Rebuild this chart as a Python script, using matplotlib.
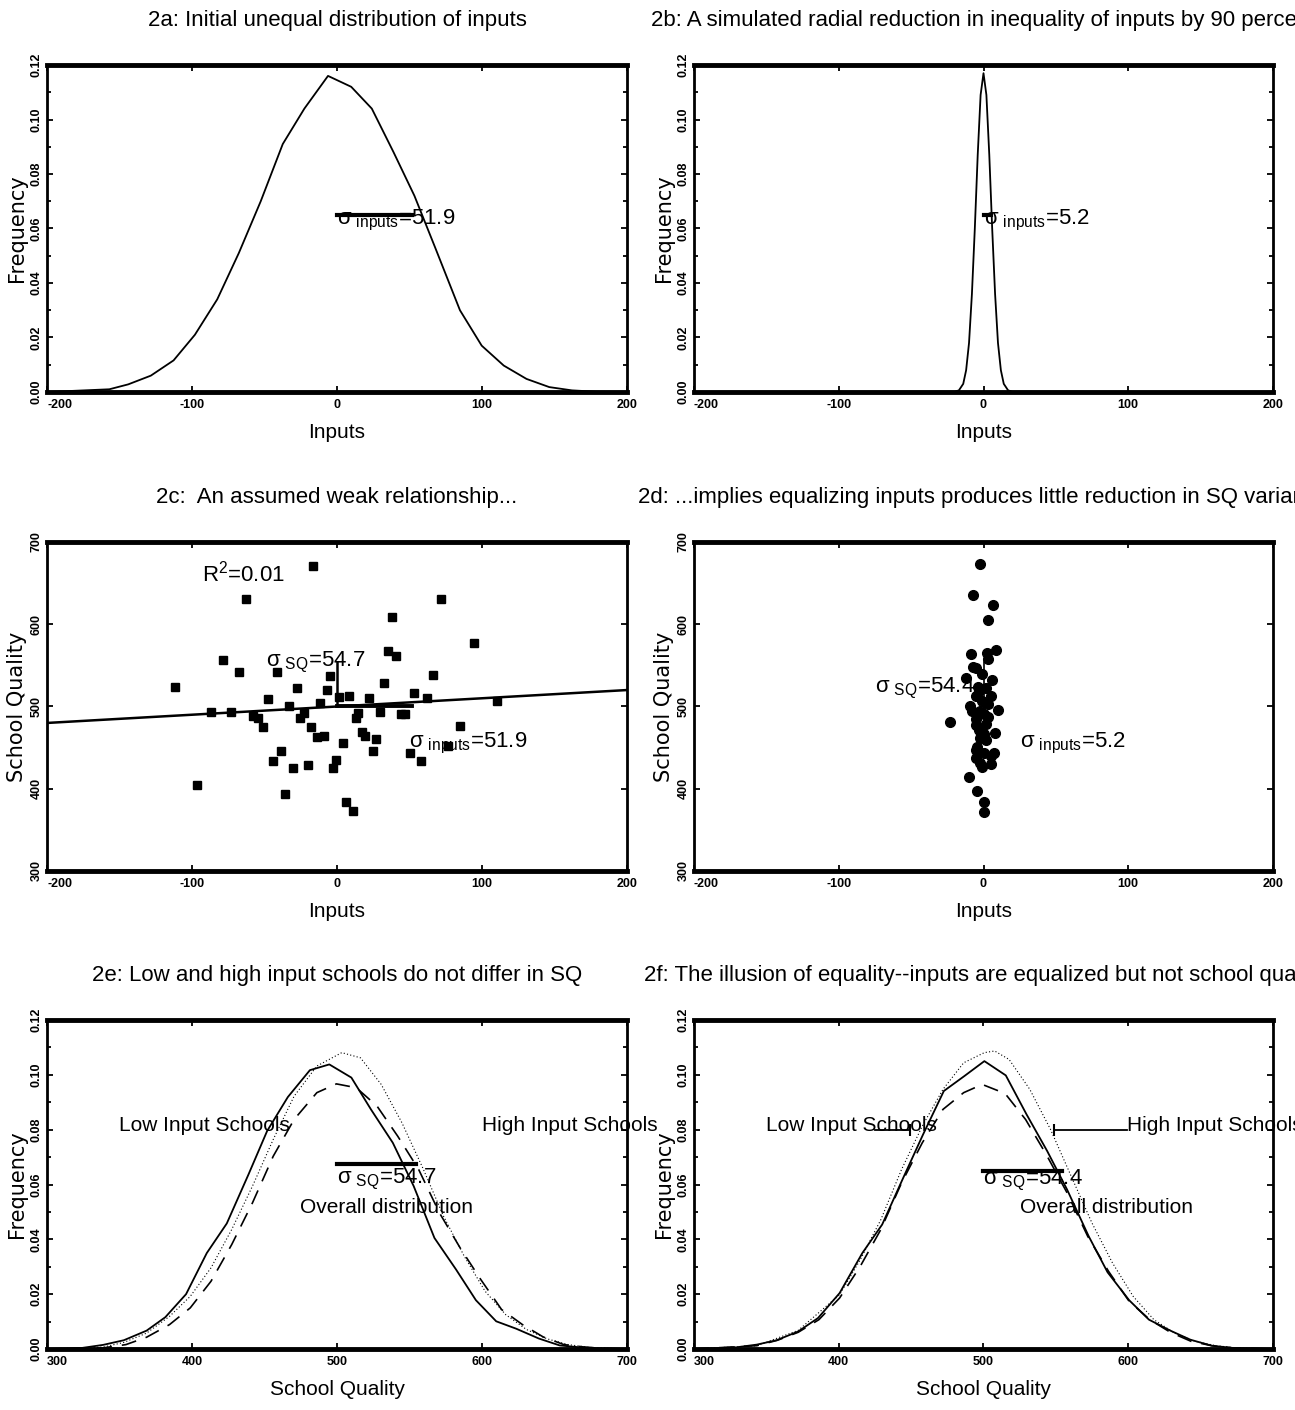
import matplotlib
matplotlib.use('Agg')
import matplotlib.pyplot as plt
from matplotlib.ticker import MultipleLocator, FormatStrFormatter

plt.rcParams['axes.unicode_minus'] = False
plt.rcParams['font.family'] = ['Liberation Sans', 'DejaVu Sans']
NARROW = ['Liberation Sans', 'DejaVu Sans']
WIDE = ['DejaVu Sans']

# 2a: initial distribution of inputs
a_x = [-200, -157, -144, -128.4, -112.7, -98, -82.6, -67.7, -52.6, -37.4, -22.5, -6.2,
       9.8, 24, 39, 53.4, 67.7, 84.8, 99.8, 115, 130.7, 146.4, 162, 179, 200]
a_y = [0.0, 0.001, 0.0028, 0.006, 0.0116, 0.021, 0.034, 0.051, 0.070, 0.091, 0.104, 0.116,
       0.112, 0.104, 0.088, 0.072, 0.053, 0.030, 0.017, 0.0097, 0.0048, 0.0018, 0.0006, 0.0001, 0.0]

# 2b: after 90 percent reduction
b_x = [-200, -20, -17, -14, -12, -10, -8, -6, -4, -2, 0, 2, 4, 6, 8, 10, 12, 14, 17, 20, 200]
b_y = [0.0, 0.0001, 0.0006, 0.003, 0.008, 0.018, 0.036, 0.060, 0.087, 0.109, 0.117,
       0.109, 0.087, 0.060, 0.036, 0.018, 0.008, 0.003, 0.0006, 0.0001, 0.0]

# 2c: scatter, weak relationship
c_x = [-111.8, -16.3, -62.8, 71.7, 37.8, 94.6, 35.3, 40.4, -78.9, -67.4, -41.3, -4.6, 66.2,
       -27.8, 32.4, -6.9, -47.3, -11.5, 1.7, 8.6, 22.4, 53.3, 61.9, 110.4, -33.0, -86.6,
       -72.8, -57.9, -54.5, -25.5, -22.7, 14.6, 13.2, 29.5, 43.9, 46.7, -51.3, -17.8, -13.5,
       -9.2, 17.2, 19.5, 26.9, 84.5, 4.0, -38.4, 24.7, 50.2, 57.6, -44.4, -0.6, -2.6, -30.1,
       -20.1, 76.8, -96.3, -35.8, 6.0, 10.9]
c_y = [523.9, 671, 630.4, 630.4, 608.7, 576.6, 567.3, 561.3, 556.5, 542.4, 542.4, 537.2, 538,
       522.3, 528.3, 520.3, 508.6, 504.2, 511.5, 513.1, 509.8, 516.3, 510.2, 506.2, 500.2, 492.9,
       492.9, 488.9, 486.1, 486.1, 492.2, 492.2, 486.1, 492.9, 490.9, 490.9, 474.9, 474.9, 462.8,
       464, 468.8, 463.6, 460.4, 476.1, 455.6, 445.9, 445.9, 443.9, 433.9, 433.9, 434.7, 425.4,
       425.4, 428.6, 451.6, 404.5, 393.7, 384.4, 372.4]
fit_x = [-200, 200]
fit_y = [480, 520]

# 2d: scatter after equalizing inputs
d_x = [-2.3, -7.1, 6.3, 2.9, 8.6, -8.9, 2.6, 2.9, -7.1, -5.1, -1.1, -12.3, 5.7, 2.0, -3.7,
       4.9, -5.1, -0.9, -9.4, 10.0, -8.0, 0.6, 3.4, -5.1, -23.4, -5.1, -2.9, 7.7, 0.6, -2.3,
       2.0, -4.6, 7.1, 0.0, 4.9, -5.1, -2.3, 4.9, -0.9, -10.3, -4.3, 0.0, 0.6, -2.9, 3.4,
       -2.3, 2.0, -0.9, -5.1]
d_y = [673, 635.7, 623.6, 605.5, 568.1, 564.1, 565.3, 557.3, 548, 546.4, 539.2, 535.2, 532.4,
       523.1, 523.9, 512.3, 512.3, 507, 501, 496.2, 495, 491, 486.9, 484.9, 480.9, 478.1, 472,
       468, 466.8, 461.6, 458.8, 450.8, 443.9, 443.5, 439.9, 437.9, 430.7, 429.9, 426.6, 413.8,
       397.3, 384.4, 371.2, 519, 503, 495, 479, 467, 446.7]

# 2e: SQ distributions, unequal inputs
e_low_x = [300, 324.3, 338.7, 353, 368.7, 381.6, 395.9, 410.2, 424, 438.9, 451.8, 466.1, 481.3,
           494.7, 509.9, 523.4, 538.5, 552.9, 567.2, 582.1, 595.8, 609.8, 623.6, 639.3, 653.6,
           667.9, 682.3, 700]
e_low_y = [0.0, 0.0004, 0.0015, 0.0032, 0.0067, 0.0116, 0.020, 0.035, 0.0458, 0.0636, 0.0795,
           0.0919, 0.1017, 0.1038, 0.099, 0.0874, 0.0752, 0.0594, 0.0405, 0.029, 0.0178, 0.0101,
           0.0074, 0.0038, 0.0013, 0.0006, 0.0002, 0.0]
e_high_x = [300, 338.7, 354.4, 368.7, 384.5, 398.8, 413.1, 427.4, 441.7, 456, 470.4, 486.1,
            499.6, 513.3, 527.6, 541.9, 556.3, 570.6, 584.9, 599.2, 613.5, 627.9, 642.2, 656.5,
            670.8, 685.1, 700]
e_high_y = [0.0, 0.0004, 0.0016, 0.0043, 0.0089, 0.015, 0.0247, 0.0381, 0.0533, 0.0703, 0.0837,
            0.0935, 0.0967, 0.0953, 0.0886, 0.0776, 0.0655, 0.0497, 0.0369, 0.0253, 0.0144,
            0.0089, 0.0044, 0.0016, 0.0007, 0.0002, 0.0]
e_all_x = [300, 338.7, 353, 368.7, 384.5, 398.8, 413.1, 427.4, 441.7, 456, 470.4, 486.1, 503.3,
           516.2, 530.5, 544.8, 559.1, 573.5, 587.8, 602.1, 616.4, 630.7, 645, 659.4, 673.7, 700]
e_all_y = [0.0, 0.0007, 0.0024, 0.0058, 0.0119, 0.0192, 0.0296, 0.0436, 0.0594, 0.0764, 0.0922,
           0.1032, 0.1081, 0.1062, 0.0965, 0.0825, 0.0661, 0.0484, 0.0338, 0.0211, 0.0125,
           0.0071, 0.0037, 0.0016, 0.0006, 0.0]

# 2f: SQ distributions, equalized inputs
f_low_x = [300, 329.1, 343.4, 357.1, 372, 385.7, 400.6, 416.3, 430, 444, 458.3, 472.6, 486.9,
           500.6, 515.4, 529.7, 544, 557.7, 572.6, 585.7, 600.6, 614.3, 629.1, 642.9, 657.7,
           672, 700]
f_low_y = [0.0, 0.0006, 0.0016, 0.0032, 0.0064, 0.0113, 0.0204, 0.035, 0.0454, 0.0618, 0.0783,
           0.0941, 0.0996, 0.105, 0.0998, 0.0856, 0.0722, 0.0582, 0.0412, 0.028, 0.0178, 0.0107,
           0.0067, 0.0034, 0.0012, 0.0004, 0.0]
f_high_x = [300, 343.4, 357.7, 372, 386.3, 400.6, 414.9, 429.1, 443.4, 457.7, 472, 486.3, 499.1,
            514.9, 529.1, 543.4, 557.7, 572, 586.3, 600.6, 614.9, 629.1, 643.4, 657.7, 672, 700]
f_high_y = [0.0, 0.0012, 0.0032, 0.0061, 0.0107, 0.0186, 0.0302, 0.0436, 0.0606, 0.0752, 0.0874,
            0.0935, 0.0965, 0.0932, 0.0837, 0.0709, 0.057, 0.0411, 0.0284, 0.0174, 0.0107,
            0.0061, 0.0028, 0.0012, 0.0004, 0.0]
f_all_x = [300, 343.4, 372, 400.6, 414.9, 429.1, 443.4, 457.7, 472, 486.3, 500.6, 507.7, 517.7,
           532, 546.3, 560.6, 574.9, 589.1, 603.4, 617.7, 632, 646.3, 660.6, 674.9, 700]
f_all_y = [0.0, 0.0012, 0.0068, 0.0198, 0.0326, 0.0472, 0.0655, 0.0813, 0.0947, 0.1044, 0.1081,
           0.1087, 0.1056, 0.0947, 0.0801, 0.063, 0.046, 0.0314, 0.0192, 0.0107, 0.0058, 0.0028,
           0.0012, 0.0004, 0.0]

titles = ['2a: Initial unequal distribution of inputs',
          '2b: A simulated radial reduction in inequality of inputs by 90 percent',
          '2c:  An assumed weak relationship...',
          '2d: ...implies equalizing inputs produces little reduction in SQ variance',
          '2e: Low and high input schools do not differ in SQ',
          '2f: The illusion of equality--inputs are equalized but not school quality']

W, H = 1295, 1410
cols = [(47, 627), (694, 1273)]
rows = [(65, 392), (542, 871), (1020, 1349)]


def box(l, t, r, b):
    return [l / W, 1 - b / H, (r - l) / W, (b - t) / H]


def style(ax, xlim, ylim, ymaj, ymin, yfmt, xlabel, ylabel, title):
    ax.set_xlim(*xlim)
    ax.set_ylim(*ylim)
    xt = list(range(xlim[0], xlim[1] + 1, 100))
    ax.set_xticks(xt)
    ax.set_xticklabels([str(v) for v in xt])
    ax.yaxis.set_major_locator(MultipleLocator(ymaj))
    if ymin:
        ax.yaxis.set_minor_locator(MultipleLocator(ymin))
    ax.yaxis.set_major_formatter(FormatStrFormatter(yfmt))
    ax.tick_params(which='both', direction='in', top=True, right=True, width=1.3)
    ax.tick_params(which='major', length=4)
    ax.tick_params(which='minor', length=3)
    ax.tick_params(axis='x', pad=5)
    ax.tick_params(axis='y', pad=3, labelrotation=90)
    for lab in ax.get_xticklabels() + ax.get_yticklabels():
        lab.set_fontweight('bold')
        lab.set_fontsize(9)
        lab.set_family(['Liberation Sans', 'DejaVu Sans'])
    for lab in ax.get_yticklabels():
        lab.set_va('center')
    # leftmost x label sits inside the frame, as in the original
    ax.xaxis.get_major_ticks()[0].label1.set_ha('left')
    for s in ['top', 'bottom']:
        ax.spines[s].set_linewidth(3.5)
    for s in ['left', 'right']:
        ax.spines[s].set_linewidth(2)
    ax.set_xlabel(xlabel, fontsize=15, family=NARROW, labelpad=9)
    ax.set_ylabel(ylabel, fontsize=15, family=WIDE, labelpad=3)
    ax.set_title(title, fontsize=16, family=NARROW, pad=28)


fig = plt.figure(figsize=(W / 100, H / 100), dpi=100)
axes = [[fig.add_axes(box(cl, rt, cr, rb)) for (cl, cr) in cols] for (rt, rb) in rows]
k = dict(color='black', lw=1.3)
sig_in = r'σ$_{\ \mathregular{inputs}}$'
sig_sq = r'σ$_{\ \mathregular{SQ}}$'
tk = dict(fontsize=16, family=['Liberation Sans', 'DejaVu Sans'])
lbl = dict(fontsize=15, family=NARROW)

# 2a
ax = axes[0][0]
ax.plot(a_x, a_y, **k)
ax.plot([0, 51.9], [0.065, 0.065], color='black', lw=3)
ax.text(0, 0.0615, sig_in + '=51.9', **tk)
style(ax, (-200, 200), (0, 0.12), 0.02, 0.01, '%.2f', 'Inputs', 'Frequency', titles[0])

# 2b
ax = axes[0][1]
ax.plot(b_x, b_y, **k)
ax.plot([0, 5.2], [0.065, 0.065], color='black', lw=3)
ax.text(0, 0.0615, sig_in + '=5.2', **tk)
style(ax, (-200, 200), (0, 0.12), 0.02, 0.01, '%.2f', 'Inputs', 'Frequency', titles[1])

# 2c
ax = axes[1][0]
ax.plot(c_x, c_y, ls='none', marker='s', ms=6, color='black')
ax.plot(fit_x, fit_y, color='black', lw=1.8)
ax.plot([0, 0], [500, 554.7], color='black', lw=1.8)
ax.plot([0, 51.9], [500, 500], color='black', lw=2.8)
ax.text(-93, 652, r'R$^{\mathregular{2}}$=0.01', **tk)
ax.text(-49, 549, sig_sq + '=54.7', **tk)
ax.text(49.5, 450, sig_in + '=51.9', **tk)
style(ax, (-200, 200), (300, 700), 100, None, '%d', 'Inputs', 'School Quality', titles[2])

# 2d
ax = axes[1][1]
ax.plot(d_x, d_y, ls='none', marker='o', ms=7, color='black')
ax.plot([0, 0], [500, 554.4], color='black', lw=1.2)
ax.plot([0, 5.2], [500, 500], color='black', lw=2.5)
ax.text(-75, 517, sig_sq + '=54.4', **tk)
ax.text(25, 450, sig_in + '=5.2', **tk)
style(ax, (-200, 200), (300, 700), 100, None, '%d', 'Inputs', 'School Quality', titles[3])

# 2e
ax = axes[2][0]
ax.plot(e_low_x, e_low_y, **k)
ax.plot(e_high_x, e_high_y, color='black', lw=1.2, dashes=(9, 6))
ax.plot(e_all_x, e_all_y, color='black', lw=0.8, dashes=(1, 2))
ax.plot([500, 554.7], [0.0675, 0.0675], color='black', lw=3)
ax.text(500, 0.0605, sig_sq + '=54.7', **tk)
ax.text(349.5, 0.0795, 'Low Input Schools', **lbl)
ax.text(600, 0.0795, 'High Input Schools', **lbl)
ax.text(474.7, 0.0497, 'Overall distribution', **lbl)
style(ax, (300, 700), (0, 0.12), 0.02, 0.01, '%.2f', 'School Quality', 'Frequency', titles[4])

# 2f
ax = axes[2][1]
ax.plot(f_low_x, f_low_y, **k)
ax.plot(f_high_x, f_high_y, color='black', lw=1.2, dashes=(9, 6))
ax.plot(f_all_x, f_all_y, color='black', lw=0.8, dashes=(1, 2))
ax.plot([500, 554.4], [0.0651, 0.0651], color='black', lw=3)
ax.text(500, 0.060, sig_sq + '=54.4', **tk)
ax.text(349.7, 0.0795, 'Low Input Schools', **lbl)
ax.text(599.1, 0.0795, 'High Input Schools', **lbl)
ax.text(524.9, 0.0497, 'Overall distribution', **lbl)
ax.plot([425, 449], [0.0797, 0.0797], color='black', lw=1.3)
ax.plot([449], [0.0797], marker='|', ms=9, mew=1.5, color='black')
ax.plot([549, 599], [0.0797, 0.0797], color='black', lw=1.3)
ax.plot([549], [0.0797], marker='|', ms=9, mew=1.5, color='black')
style(ax, (300, 700), (0, 0.12), 0.02, 0.01, '%.2f', 'School Quality', 'Frequency', titles[5])

fig.savefig('out.png', dpi=100)
